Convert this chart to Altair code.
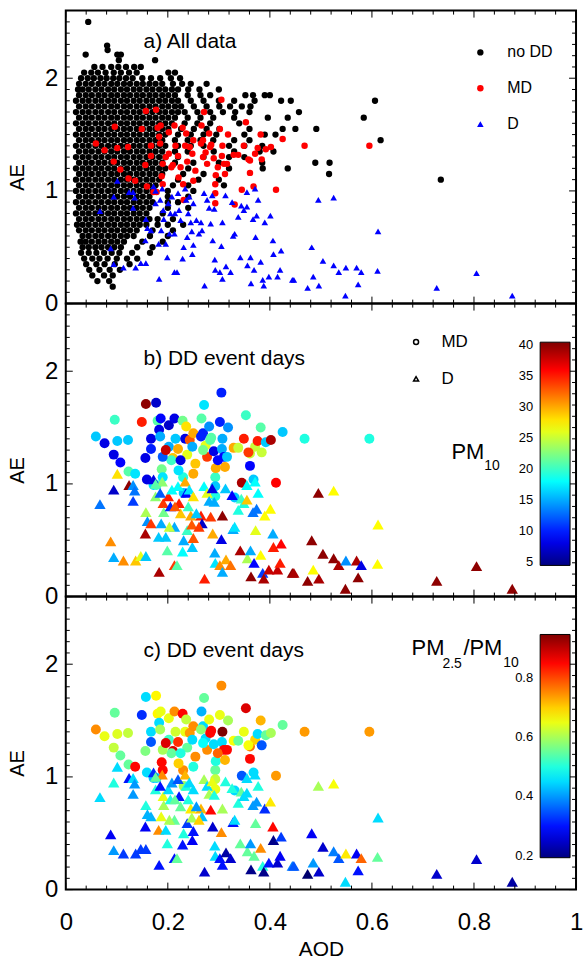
import altair as alt
import pandas as pd

FONT = "Liberation Sans"
W, H = 512, 294

# ---------------- data ----------------
# MD (mixed dust) days: AOD, AE, PM10, PM2.5/PM10
md_aod = [0.059,0.076,0.096,0.101,0.094,0.107,0.122,0.123,0.136,0.149,
          0.157,0.156,0.159,0.172,0.177,0.167,0.167,0.178,0.180,0.183,
          0.186,0.188,0.190,0.202,0.210,0.213,0.215,0.229,0.234,0.202,
          0.207,0.220,0.230,0.231,0.238,0.243,0.250,0.248,0.254,0.266,
          0.271,0.269,0.274,0.281,0.285,0.277,0.290,0.293,0.293,0.293,
          0.294,0.302,0.305,0.307,0.306,0.310,0.312,0.318,0.329,0.331,
          0.345,0.349,0.353,0.361,0.361,0.368,0.371,0.376,0.382,0.384,
          0.392,0.402,0.412,0.425,0.468,0.595,0.236,0.265,0.283,0.250,
          0.190,0.196,0.221,0.269,0.298,0.316,0.338,0.358,0.185,0.225]
md_ae = [1.42,1.36,1.57,1.38,1.26,1.19,1.39,1.11,1.09,1.55,
         1.71,1.23,1.04,0.99,1.72,1.40,1.31,0.99,1.56,1.48,
         1.58,1.13,1.06,1.52,1.23,1.58,1.40,1.56,1.40,1.33,
         1.21,1.31,1.06,0.92,1.26,1.39,1.45,1.33,1.18,1.58,
         1.70,1.45,1.34,1.51,1.41,1.24,1.29,1.06,0.98,0.89,
         1.14,1.55,1.81,1.40,1.31,1.24,1.15,1.50,1.32,0.88,
         1.01,1.40,1.61,1.16,1.27,1.04,1.33,1.38,1.50,1.28,
         1.37,1.39,1.01,1.46,1.40,1.40,1.51,1.42,1.39,1.09,
         1.24,1.30,1.12,1.30,1.21,1.24,1.32,1.28,1.42,1.21]
md_pm10 = [16,8,20,16,8,9,16,21,17,35,
           40,8,8,17,7,8,10,20,21,8,
           9,22,17,7,29,8,16,22,8,15,
           20,30,19,16,26,33,30,15,29,21,
           17,10,26,14,21,34,8,20,16,19,
           30,10,10,15,15,9,30,14,30,16,
           39,35,20,9,25,16,25,35,21,25,
           16,39,36,16,19,19,28,10,21,30,
           12,38,17,22,9,16,25,34,15,8]
md_ratio = [0.75,0.65,0.55,0.64,0.62,0.55,0.62,0.55,0.85,0.32,
            0.45,0.57,0.45,0.43,0.67,0.45,0.35,0.45,0.67,0.45,
            0.65,0.85,0.85,0.65,0.88,0.75,0.63,0.85,0.65,0.52,
            0.55,0.82,0.75,0.60,0.55,0.74,0.75,0.45,0.75,0.42,
            0.55,0.45,0.45,0.65,0.85,0.75,0.45,0.55,0.62,0.65,
            0.50,0.65,0.75,0.95,0.45,0.85,0.72,0.60,0.66,0.45,
            0.35,0.65,0.88,0.85,0.77,0.45,0.70,0.45,0.72,0.35,
            0.55,0.60,0.74,0.55,0.74,0.74,0.62,0.58,0.85,0.50,
            0.60,0.88,0.70,0.48,0.78,0.85,0.55,0.66,0.60,0.50]

# D (dust) days
d_aod = [0.067,0.094,0.101,0.124,0.132,0.135,0.132,0.088,0.094,0.113,
         0.137,0.147,0.157,0.156,0.157,0.160,0.167,0.172,0.176,0.182,
         0.183,0.187,0.189,0.191,0.192,0.196,0.199,0.201,0.205,0.208,
         0.213,0.213,0.218,0.220,0.222,0.225,0.229,0.231,0.234,0.236,
         0.238,0.242,0.245,0.247,0.248,0.250,0.265,0.267,0.271,0.272,
         0.277,0.281,0.284,0.287,0.288,0.291,0.292,0.293,0.302,0.305,
         0.307,0.307,0.313,0.314,0.323,0.326,0.328,0.331,0.338,0.342,
         0.344,0.349,0.355,0.355,0.356,0.362,0.363,0.367,0.369,0.371,
         0.372,0.374,0.377,0.382,0.386,0.388,0.390,0.398,0.401,0.406,
         0.407,0.415,0.420,0.422,0.444,0.447,0.474,0.482,0.485,0.496,
         0.495,0.504,0.525,0.525,0.535,0.548,0.549,0.570,0.573,0.579,
         0.611,0.612,0.727,0.805,0.875,0.176,0.185,0.203,0.214,0.240,
         0.250,0.256,0.261]
d_ae = [0.82,0.95,1.09,0.99,0.99,0.94,0.85,0.49,0.35,0.32,
        0.32,0.36,0.36,0.56,0.75,0.67,0.65,1.04,0.89,0.53,
        0.22,0.65,1.02,0.83,0.75,0.53,0.41,0.89,0.80,0.95,
        0.62,0.28,0.28,0.98,0.83,0.74,0.40,0.50,1.02,0.92,
        0.59,0.95,0.72,0.64,0.44,0.52,0.72,0.65,0.98,0.16,
        0.92,0.85,0.71,0.96,0.56,0.84,0.39,0.30,0.28,0.51,
        0.72,0.22,0.96,0.33,0.28,0.90,0.60,0.62,0.77,0.41,
        0.87,0.83,0.86,0.99,0.34,0.41,0.18,0.75,0.30,1.02,
        0.59,0.78,0.92,0.37,0.21,0.16,0.72,0.24,0.78,0.56,
        0.44,0.24,0.30,0.47,0.21,0.21,0.14,0.50,0.24,0.16,
        0.92,0.38,0.94,0.34,0.28,0.07,0.32,0.32,0.17,0.28,
        0.29,0.64,0.14,0.27,0.07,1.00,0.92,0.62,0.80,0.80,
        0.89,0.74,0.62]
d_pm10 = [13,7,28,40,14,13,11,31,15,31,
          29,26,16,39,24,14,34,8,23,16,
          39,15,23,34,22,16,21,35,10,18,
          15,34,21,18,35,29,18,15,30,9,
          20,17,30,33,16,33,35,7,18,35,
          26,15,34,8,30,15,15,17,31,8,
          40,15,16,30,32,9,15,17,19,39,
          20,19,29,18,24,15,40,13,9,18,
          26,13,18,27,11,39,27,38,27,15,
          35,38,35,36,40,39,40,40,27,39,
          40,40,27,40,39,40,14,39,40,8,
          27,27,40,40,40,21,12,25,33,20,
          28,16,34]
d_ratio = [0.45,0.50,0.45,0.30,0.45,0.40,0.40,0.28,0.40,0.33,
           0.33,0.33,0.33,0.28,0.50,0.42,0.42,0.32,0.50,0.75,
           0.30,0.65,0.75,0.65,0.60,0.45,0.50,0.45,0.50,0.40,
           0.55,0.30,0.55,0.35,0.30,0.55,0.30,0.50,0.72,0.50,
           0.33,0.45,0.68,0.60,0.28,0.30,0.72,0.43,0.60,0.25,
           0.45,0.60,0.85,0.65,0.25,0.50,0.45,0.45,0.30,0.75,
           0.60,0.30,0.50,0.22,0.25,0.50,0.30,0.45,0.50,0.55,
           0.55,0.45,0.45,0.45,0.55,0.40,0.20,0.40,0.55,0.45,
           0.55,0.40,0.50,0.75,0.50,0.20,0.32,0.30,0.68,0.85,
           0.20,0.25,0.28,0.33,0.38,0.35,0.18,0.28,0.40,0.25,
           0.60,0.25,0.66,0.38,0.35,0.45,0.68,0.28,0.30,0.78,
           0.55,0.45,0.25,0.25,0.22,0.55,0.30,0.60,0.55,0.50,
           0.45,0.40,0.70]

# no-DD days: dense cloud, read row by row (AE level, AOD values)
nodd_rows = [
    (2.50, [0.044]),
    (2.29, [0.081]),
    (2.25, [0.082]),
    (2.21, [0.039, 0.101, 0.108]),
    (2.16, [0.104, 0.175]),
    (2.10, [0.056, 0.072, 0.089, 0.103, 0.118, 0.134, 0.147]),
    (2.05, [0.036, 0.050, 0.063, 0.078, 0.094, 0.108, 0.124, 0.139, 0.201, 0.214]),
    (2.00, [0.030, 0.043, 0.055, 0.068, 0.080, 0.093, 0.105, 0.118, 0.131, 0.150, 0.167, 0.185, 0.206, 0.224]),
    (1.95, [0.026, 0.039, 0.051, 0.064, 0.076, 0.089, 0.101, 0.114, 0.126, 0.139, 0.151, 0.164, 0.176, 0.189,
            0.210, 0.228, 0.245, 0.276]),
    (1.90, [0.024, 0.033, 0.045, 0.058, 0.070, 0.083, 0.095, 0.108, 0.120, 0.133, 0.145, 0.158, 0.170, 0.183,
            0.195, 0.208, 0.220, 0.240, 0.262, 0.300]),
    (1.85, [0.026, 0.039, 0.051, 0.064, 0.076, 0.089, 0.101, 0.114, 0.126, 0.139, 0.151, 0.164, 0.176, 0.189,
            0.201, 0.214, 0.239, 0.264, 0.283, 0.352, 0.367, 0.390, 0.400]),
    (1.80, [0.020, 0.033, 0.045, 0.058, 0.070, 0.083, 0.095, 0.108, 0.120, 0.133, 0.145, 0.158, 0.170, 0.183,
            0.195, 0.208, 0.220, 0.245, 0.270, 0.300, 0.330, 0.370, 0.422, 0.441, 0.606]),
    (1.75, [0.026, 0.039, 0.051, 0.064, 0.076, 0.089, 0.101, 0.114, 0.126, 0.139, 0.151, 0.164, 0.176, 0.189,
            0.201, 0.214, 0.226, 0.251, 0.276, 0.301, 0.322, 0.345, 0.362]),
    (1.70, [0.020, 0.033, 0.045, 0.058, 0.070, 0.083, 0.095, 0.108, 0.120, 0.133, 0.145, 0.158, 0.170, 0.183,
            0.195, 0.208, 0.220, 0.233, 0.258, 0.283, 0.308, 0.332, 0.360, 0.457]),
    (1.65, [0.026, 0.039, 0.051, 0.064, 0.076, 0.089, 0.101, 0.114, 0.126, 0.139, 0.151, 0.164, 0.176, 0.189,
            0.201, 0.214, 0.239, 0.264, 0.289, 0.330, 0.396, 0.435, 0.584]),
    (1.60, [0.020, 0.033, 0.045, 0.058, 0.070, 0.083, 0.095, 0.108, 0.120, 0.133, 0.145, 0.158, 0.170, 0.183,
            0.195, 0.208, 0.233, 0.258, 0.283, 0.340]),
    (1.55, [0.026, 0.039, 0.051, 0.064, 0.076, 0.089, 0.101, 0.114, 0.126, 0.139, 0.151, 0.164, 0.176, 0.189,
            0.201, 0.226, 0.251, 0.276, 0.301, 0.360, 0.425, 0.450, 0.491]),
    (1.50, [0.020, 0.033, 0.045, 0.058, 0.070, 0.083, 0.095, 0.108, 0.120, 0.133, 0.145, 0.158, 0.170, 0.183,
            0.195, 0.220, 0.245, 0.270, 0.295, 0.350, 0.390, 0.411]),
    (1.45, [0.026, 0.039, 0.051, 0.064, 0.076, 0.089, 0.101, 0.114, 0.126, 0.139, 0.151, 0.164, 0.176, 0.189,
            0.214, 0.239, 0.264, 0.289, 0.330, 0.360, 0.617]),
    (1.40, [0.020, 0.033, 0.045, 0.058, 0.070, 0.083, 0.095, 0.108, 0.120, 0.133, 0.145, 0.158, 0.170, 0.183,
            0.195, 0.220, 0.245, 0.270, 0.320, 0.350, 0.385]),
    (1.35, [0.026, 0.039, 0.051, 0.064, 0.076, 0.089, 0.101, 0.114, 0.126, 0.139, 0.151, 0.164, 0.176, 0.189,
            0.214, 0.239, 0.290, 0.330, 0.380, 0.407]),
    (1.30, [0.020, 0.033, 0.045, 0.058, 0.070, 0.083, 0.095, 0.108, 0.120, 0.133, 0.145, 0.158, 0.170, 0.183,
            0.195, 0.220, 0.270, 0.320, 0.350]),
    (1.25, [0.026, 0.039, 0.051, 0.064, 0.076, 0.089, 0.101, 0.114, 0.126, 0.139, 0.151, 0.164, 0.176, 0.189,
            0.214, 0.250, 0.300, 0.385, 0.489, 0.517]),
    (1.20, [0.020, 0.033, 0.045, 0.058, 0.070, 0.083, 0.095, 0.108, 0.120, 0.133, 0.145, 0.158, 0.170, 0.183,
            0.195, 0.240, 0.320, 0.386, 0.435]),
    (1.15, [0.026, 0.039, 0.051, 0.064, 0.076, 0.089, 0.101, 0.114, 0.126, 0.139, 0.151, 0.164, 0.176, 0.189,
            0.230, 0.270, 0.516]),
    (1.10, [0.020, 0.033, 0.045, 0.058, 0.070, 0.083, 0.095, 0.108, 0.120, 0.133, 0.145, 0.158, 0.170, 0.183,
            0.220, 0.260, 0.300, 0.735]),
    (1.05, [0.026, 0.039, 0.051, 0.064, 0.076, 0.089, 0.101, 0.114, 0.126, 0.139, 0.151, 0.164, 0.176,
            0.210, 0.240, 0.310]),
    (1.00, [0.020, 0.033, 0.045, 0.058, 0.070, 0.083, 0.095, 0.108, 0.120, 0.133, 0.145, 0.158, 0.170,
            0.200, 0.250]),
    (0.95, [0.026, 0.039, 0.051, 0.064, 0.076, 0.089, 0.101, 0.114, 0.126, 0.139, 0.151, 0.164, 0.200, 0.240]),
    (0.90, [0.020, 0.033, 0.045, 0.058, 0.070, 0.083, 0.095, 0.108, 0.120, 0.133, 0.145, 0.158, 0.170,
            0.200, 0.220]),
    (0.85, [0.026, 0.039, 0.051, 0.064, 0.076, 0.089, 0.101, 0.114, 0.126, 0.139, 0.151, 0.164, 0.200, 0.240]),
    (0.80, [0.020, 0.033, 0.045, 0.058, 0.070, 0.083, 0.095, 0.108, 0.120, 0.133, 0.145, 0.158, 0.190]),
    (0.75, [0.026, 0.039, 0.051, 0.064, 0.076, 0.089, 0.101, 0.114, 0.126, 0.139, 0.151, 0.164, 0.180, 0.210]),
    (0.70, [0.022, 0.033, 0.045, 0.058, 0.070, 0.083, 0.095, 0.108, 0.120, 0.133, 0.145, 0.158, 0.180, 0.200,
            0.230]),
    (0.65, [0.026, 0.039, 0.051, 0.064, 0.076, 0.089, 0.101, 0.114, 0.126, 0.139, 0.170, 0.210]),
    (0.60, [0.033, 0.045, 0.058, 0.070, 0.083, 0.095, 0.108, 0.120, 0.133, 0.165, 0.200]),
    (0.55, [0.029, 0.039, 0.051, 0.064, 0.076, 0.089, 0.101, 0.114, 0.150, 0.190]),
    (0.50, [0.033, 0.045, 0.058, 0.070, 0.083, 0.095, 0.108, 0.140, 0.170]),
    (0.45, [0.030, 0.045, 0.060, 0.075, 0.090, 0.105, 0.130, 0.165]),
    (0.40, [0.036, 0.052, 0.066, 0.082, 0.100, 0.120, 0.140]),
    (0.35, [0.040, 0.060, 0.076, 0.096, 0.125]),
    (0.30, [0.046, 0.066, 0.086, 0.106]),
    (0.25, [0.052, 0.075, 0.092]),
    (0.20, [0.062, 0.085]),
    (0.15, [0.092]),
]

# axis ticks and colour-bar labels
ae_major = [0, 1, 2]
ae_minor = [0.1, 0.2, 0.3, 0.4, 0.5, 0.6, 0.7, 0.8, 0.9, 1.1, 1.2, 1.3, 1.4, 1.5, 1.6, 1.7,
            1.8, 1.9, 2.1, 2.2, 2.3, 2.4, 2.5]
aod_major = [0, 0.2, 0.4, 0.6, 0.8, 1.0]
aod_minor = [0.04, 0.08, 0.12, 0.16, 0.24, 0.28, 0.32, 0.36, 0.44, 0.48, 0.52, 0.56,
             0.64, 0.68, 0.72, 0.76, 0.84, 0.88, 0.92, 0.96]
pm10_ticks = [5, 10, 15, 20, 25, 30, 35, 40]
ratio_ticks = [0.2, 0.4, 0.6, 0.8]
pm10_range = [4.4, 40.5]
ratio_range = [0.193, 0.948]

# ---------------- frames ----------------
nodd_aod, nodd_ae = [], []
for ae, aods in nodd_rows:
    for a in aods:
        nodd_aod.append(a)
        nodd_ae.append(ae)

cats = ["no DD", "MD", "D"]
df_a = pd.DataFrame({
    "aod": nodd_aod + md_aod + d_aod,
    "ae": nodd_ae + md_ae + d_ae,
    "cat": ["no DD"] * len(nodd_aod) + ["MD"] * len(md_aod) + ["D"] * len(d_aod),
})
df_md = pd.DataFrame({"aod": md_aod, "ae": md_ae, "pm10": md_pm10, "ratio": md_ratio,
                      "type": ["MD"] * len(md_aod)})
df_d = pd.DataFrame({"aod": d_aod, "ae": d_ae, "pm10": d_pm10, "ratio": d_ratio,
                     "type": ["D"] * len(d_aod)})

JET = ["#000080", "#0000ff", "#0080ff", "#00ffff", "#80ff80",
       "#ffff00", "#ff8000", "#ff0000", "#800000"]

xscale = alt.Scale(domain=[0, 1], nice=False, zero=False)
yscale = alt.Scale(domain=[0, 2.6], nice=False, zero=False)
shape_scale = alt.Scale(domain=["MD", "D"], range=["circle", "triangle-up"])


def yaxis():
    return alt.Axis(values=ae_major, labelFontSize=24, labelFont=FONT, labelColor="black",
                    labelPadding=8, ticks=False, tickSize=0, domain=False, grid=False,
                    labelFlush=False, labelOverlap=False,
                    title="AE", titleFont=FONT, titleFontSize=20, titleFontWeight="normal",
                    titleColor="black", titleX=-38, titleY=167)


def tick_layers():
    out = []
    for vals, L in [(ae_minor, 4), (ae_major, 7)]:
        df = pd.DataFrame({"v": vals})
        base = alt.Chart(df).mark_rule(color="black", strokeWidth=1)
        out.append(base.encode(y=alt.Y("v:Q", scale=yscale, axis=None),
                               x=alt.value(0), x2=alt.value(L)))
        out.append(base.encode(y=alt.Y("v:Q", scale=yscale, axis=None),
                               x=alt.value(W), x2=alt.value(W - L)))
    for vals, L in [(aod_minor, 4), (aod_major, 7)]:
        df = pd.DataFrame({"v": vals})
        base = alt.Chart(df).mark_rule(color="black", strokeWidth=1)
        out.append(base.encode(x=alt.X("v:Q", scale=xscale, axis=None),
                               y=alt.value(H), y2=alt.value(H - L)))
        out.append(base.encode(x=alt.X("v:Q", scale=xscale, axis=None),
                               y=alt.value(0), y2=alt.value(L)))
    return out


def label(txt, x, y, size):
    return alt.Chart(pd.DataFrame({"t": [txt]})).mark_text(
        align="left", baseline="alphabetic", font=FONT, fontSize=size, color="black"
    ).encode(text="t:N", x=alt.value(x), y=alt.value(y))


def gradient_legend(ly):
    return alt.Legend(orient="none", legendX=476, legendY=ly, direction="vertical", title=None,
                      gradientLength=224, gradientThickness=30, gradientStrokeColor="black",
                      gradientStrokeWidth=1, labelExpr="''", labelFontSize=1, padding=0)


def bar_labels(vals, dom, top, fmt):
    # colour-bar tick labels, placed on the left of the bar through their own scale
    return alt.Chart(pd.DataFrame({"v": vals})).mark_text(
        align="right", baseline="middle", font=FONT, fontSize=13, color="black"
    ).encode(
        y=alt.Y("v:Q", scale=alt.Scale(domain=dom, range=[top + 224, top], nice=False, zero=False),
                axis=None),
        x=alt.value(469),
        text=alt.Text("v:Q", format=fmt),
    )


def dd_points(df, size, xax, yax, color, shape_legend):
    return alt.Chart(df).mark_point(filled=True, opacity=1, strokeWidth=0, size=size).encode(
        x=alt.X("aod:Q", scale=xscale, axis=xax),
        y=alt.Y("ae:Q", scale=yscale, axis=yax),
        color=color,
        shape=alt.Shape("type:N", scale=shape_scale, legend=shape_legend),
    )


# ---------------- panel a ----------------
legA = alt.Legend(orient="none", legendX=408, legendY=34, title=None, labelFont=FONT,
                  labelFontSize=16, labelColor="black", rowPadding=20, labelOffset=19,
                  padding=0, symbolStrokeWidth=0)
pts_a = alt.Chart(df_a).mark_point(filled=True, opacity=1, strokeWidth=0).encode(
    x=alt.X("aod:Q", scale=xscale, axis=None),
    y=alt.Y("ae:Q", scale=yscale, axis=yaxis()),
    color=alt.Color("cat:N", scale=alt.Scale(domain=cats, range=["black", "#ff0000", "#0000ff"]),
                    legend=legA),
    shape=alt.Shape("cat:N", scale=alt.Scale(domain=cats, range=["circle", "circle", "triangle-up"]),
                    legend=legA),
    size=alt.Size("cat:N", scale=alt.Scale(domain=cats, range=[40, 44, 49]), legend=legA),
)
panel_a = alt.layer(pts_a, *tick_layers(), label("a) All data", 78, 38, 21)).resolve_scale(
    x="independent", y="independent").properties(width=W, height=H)

# ---------------- panel b ----------------
shape_leg = alt.Legend(orient="none", legendX=343, legendY=30, title=None, labelFont=FONT,
                       labelFontSize=17, labelColor="black", rowPadding=19, labelOffset=17,
                       padding=0, symbolSize=25, symbolFillColor="transparent",
                       symbolStrokeColor="black", symbolStrokeWidth=1.5)
col_b = alt.Color("pm10:Q", scale=alt.Scale(domain=pm10_range, range=JET, interpolate="rgb",
                                            nice=False, zero=False),
                  legend=gradient_legend(38.7))
panel_b = alt.layer(dd_points(df_md, 100, None, yaxis(), col_b, shape_leg),
                    dd_points(df_d, 130, None, None, col_b, shape_leg),
                    *tick_layers(),
                    bar_labels(pm10_ticks, pm10_range, 38.7, "d"),
                    label("b) DD event days", 78, 62, 21),
                    label("PM", 387, 156, 22), label("10", 420, 167, 14)).resolve_scale(
    x="independent", y="independent", color="shared", shape="shared"
).properties(width=W, height=H)

# ---------------- panel c ----------------
xax_c = alt.Axis(values=aod_major, format="~g", labelFontSize=24, labelFont=FONT,
                 labelColor="black", labelPadding=21, ticks=False, tickSize=0,
                 domain=False, grid=False, labelFlush=False, labelOverlap=False,
                 title="AOD", titleFont=FONT, titleFontSize=21, titleFontWeight="normal",
                 titleColor="black", titleY=66, titleBaseline="alphabetic")
col_c = alt.Color("ratio:Q", scale=alt.Scale(domain=ratio_range, range=JET, interpolate="rgb",
                                             nice=False, zero=False),
                  legend=gradient_legend(38))
panel_c = alt.layer(dd_points(df_md, 100, xax_c, yaxis(), col_c, None),
                    dd_points(df_d, 130, None, None, col_c, None),
                    *tick_layers(),
                    bar_labels(ratio_ticks, ratio_range, 38, ".1f"),
                    label("c) DD event days", 78, 61, 21),
                    label("PM", 347, 59, 22), label("2.5", 378, 72, 14),
                    label("/PM", 399, 59, 22), label("10", 439, 71, 14)).resolve_scale(
    x="independent", y="independent", color="shared", shape="shared"
).properties(width=W, height=H)

chart = alt.vconcat(panel_a, panel_b, panel_c, spacing=0, bounds="flush").resolve_scale(
    color="independent", shape="independent", size="independent"
).properties(
    padding={"left": 7, "top": 7, "right": 0, "bottom": 0}
).configure_view(stroke="black", strokeWidth=2)

chart.save("out.html", embed_options={"renderer": "svg", "actions": False})
